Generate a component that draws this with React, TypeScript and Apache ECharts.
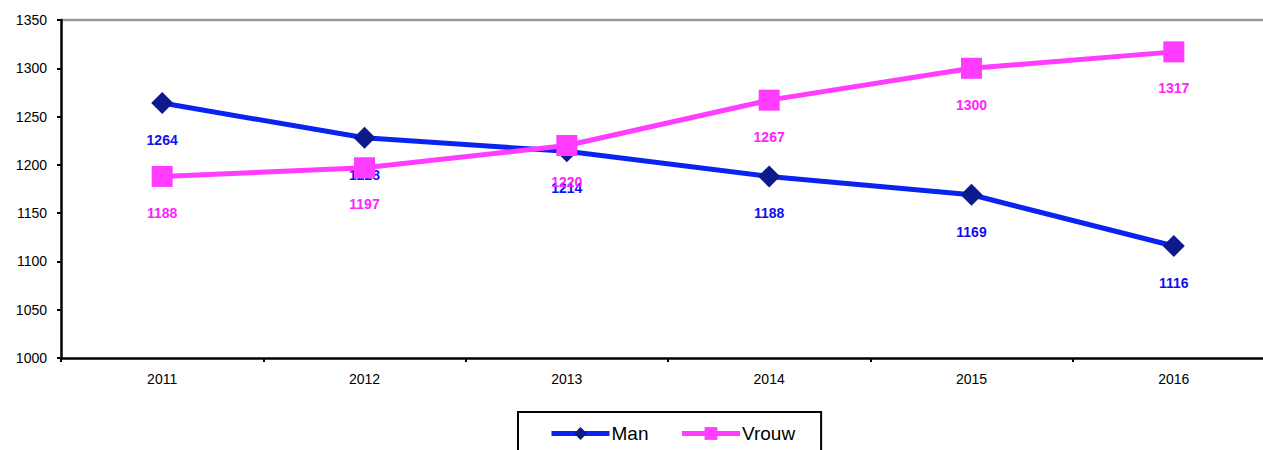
import React, { useEffect, useRef } from "react";
import * as echarts from "echarts";

const years = ["2011", "2012", "2013", "2014", "2015", "2016"];
const man = [1264, 1228, 1214, 1188, 1169, 1116];
const vrouw = [1188, 1197, 1220, 1267, 1300, 1317];
const yMin = 1000;
const yMax = 1350;
const yStep = 50;

export default function App() {
  const ref = useRef<HTMLDivElement>(null);
  useEffect(() => {
    const chart = echarts.init(ref.current!, null, { renderer: "svg" });
    const font = "Arial, 'Liberation Sans', sans-serif";
    chart.setOption({
      animation: false,
      backgroundColor: "#fff",
      grid: { left: 61, top: 20, width: 1214, height: 338, outerBoundsMode: "none", containLabel: false },
      xAxis: {
        type: "category",
        data: years,
        boundaryGap: true,
        axisLine: { lineStyle: { color: "#000", width: 2.5 } },
        axisTick: { show: true, length: 4, lineStyle: { color: "#000", width: 2 } },
        axisLabel: { color: "#000", fontSize: 14, fontFamily: font, margin: 14 },
        splitLine: { show: false },
      },
      yAxis: {
        type: "value",
        min: yMin,
        max: yMax,
        interval: yStep,
        axisLine: { show: true, lineStyle: { color: "#000", width: 2.5 } },
        axisTick: { show: true, length: 4, lineStyle: { color: "#000", width: 2 } },
        axisLabel: {
          color: "#000",
          fontSize: 14,
          fontFamily: font,
          margin: 14,
          formatter: (v: number) => String(v),
        },
        splitLine: { show: false },
      },
      legend: {
        left: 518,
        top: 412,
        padding: [12, 26, 12, 31],
        borderColor: "#000",
        borderWidth: 2,
        itemWidth: 58,
        itemHeight: 16,
        itemGap: 31,
        lineStyle: { width: 5 },
        textStyle: { color: "#000", fontSize: 19, fontFamily: font, padding: [0, 0, 0, -3] },
        data: ["Man", "Vrouw"],
      },
      graphic: [
        {
          type: "line",
          shape: { x1: 61, y1: 20, x2: 1275, y2: 20 },
          style: { stroke: "#999", lineWidth: 2.5 },
          z: 0,
        },
      ],
      series: [
        {
          name: "Man",
          type: "line",
          data: man,
          symbol: "diamond",
          symbolSize: 22,
          itemStyle: { color: "#0d1a8c" },
          lineStyle: { color: "#0a24f0", width: 5 },
          label: {
            show: true,
            position: "bottom",
            distance: 19,
            color: "#1010f0",
            fontSize: 14,
            fontWeight: "bold",
            fontFamily: font,
          },
          z: 2,
        },
        {
          name: "Vrouw",
          type: "line",
          data: vrouw,
          symbol: "rect",
          symbolSize: 21,
          itemStyle: { color: "#ff3cff" },
          lineStyle: { color: "#ff3cff", width: 5 },
          label: {
            show: true,
            position: "bottom",
            distance: 19,
            color: "#ff22ff",
            fontSize: 14,
            fontWeight: "bold",
            fontFamily: font,
          },
          z: 3,
        },
      ],
    });
    return () => chart.dispose();
  }, []);
  return (
    <div
      ref={ref}
      style={{ position: "fixed", left: 0, top: 0, width: 1263, height: 450, background: "#fff" }}
    />
  );
}
